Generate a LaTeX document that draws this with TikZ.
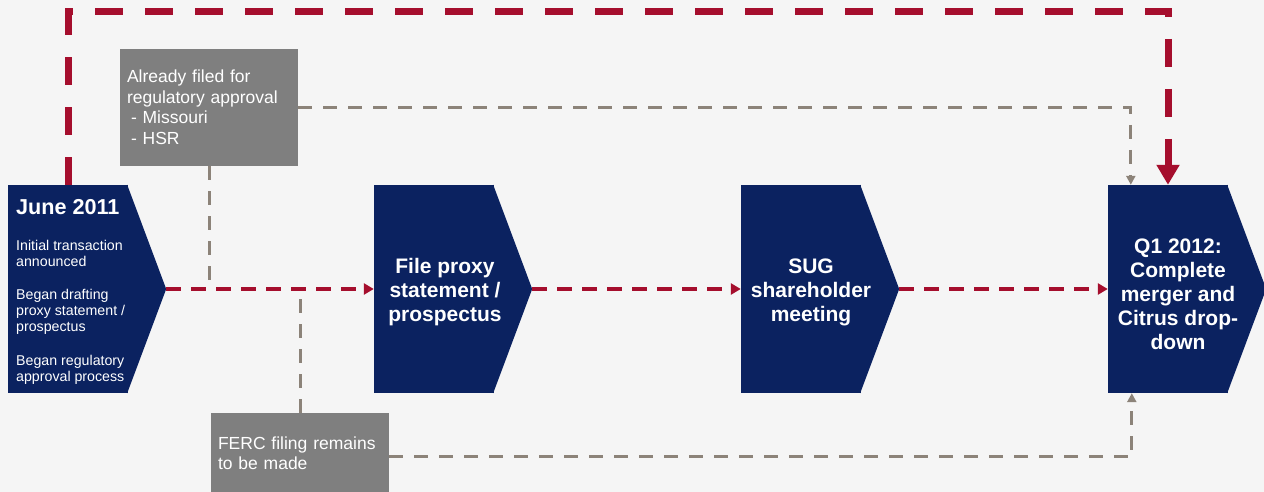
\documentclass[tikz,border=0pt]{standalone}
\usepackage{fontspec}
\setmainfont{Liberation Sans}
\usetikzlibrary{arrows.meta,calc}
\definecolor{navy}{HTML}{0B2260}
\definecolor{darkred}{HTML}{A50E2D}
\definecolor{boxgray}{HTML}{7F7F7F}
\definecolor{linegray}{HTML}{8C8379}
\definecolor{bg}{HTML}{F5F5F5}
\tikzset{
  navybox/.style={rectangle, fill=navy, minimum width=120pt, minimum height=208pt, inner sep=0pt},
  boxtitle/.style={text=white, font=\fontsize{21}{24}\selectfont\bfseries, align=center, inner sep=0pt},
  smalltxt/.style={text=white, font=\fontsize{14.2}{16}\selectfont, align=left, inner sep=0pt},
  graynote/.style={rectangle, fill=boxgray, text=white, font=\fontsize{17.5}{20.5}\selectfont, align=left, text width=164pt, inner xsep=7pt, inner ysep=0pt},
  redflow/.style={draw=darkred, line width=3.5pt, dash pattern=on 15pt off 10pt, -{Triangle[length=10pt,width=11pt]}},
  bigredflow/.style={draw=darkred, line width=7pt, dash pattern=on 28pt off 22pt, -{Triangle[length=20pt,width=22pt]}},
  grayflow/.style={draw=linegray, line width=3pt, dash pattern=on 14pt off 11pt, -{Triangle[length=9pt,width=9pt]}},
  graylink/.style={draw=linegray, line width=3pt, dash pattern=on 14pt off 11pt},
}
\begin{document}
\begin{tikzpicture}[x=1pt,y=1pt]
\fill[bg] (0,0) rectangle (1264,492);
\clip (0,0) rectangle (1264,492);
\useasboundingbox (0,0) rectangle (1264,492);

% main process boxes
\node[navybox] (june) at (68,203) {};
\node[navybox] (file) at (434,203) {};
\node[navybox] (sug)  at (801,203) {};
\node[navybox] (q1)   at (1168,203) {};
\foreach \b in {june,file,sug,q1}{
  \fill[navy] ([xshift=-1pt]\b.north east) -- ([xshift=38pt]\b.east) -- ([xshift=-1pt]\b.south east) -- cycle;
}
\coordinate (junetip) at ([xshift=38pt]june.east);
\coordinate (filetip) at ([xshift=38pt]file.east);
\coordinate (sugtip)  at ([xshift=38pt]sug.east);

% texts in the boxes
\node[text=white, font=\fontsize{21.6}{24}\selectfont\bfseries, inner sep=0pt, anchor=base west] (junetitle) at (16,277) {June 2011};
\node[smalltxt, anchor=north west] (junetxt) at (16,252)
  {Initial transaction\\announced\\[17.5pt]Began drafting\\proxy statement /\\prospectus\\[17.5pt]Began regulatory\\approval process};
\node[boxtitle] (filetxt) at ([xshift=11pt,yshift=-3pt]file.center) {File proxy\\statement /\\prospectus};
\node[boxtitle] (sugtxt) at ([xshift=10pt,yshift=-3pt]sug.center) {SUG\\shareholder\\meeting};
\node[boxtitle] (q1txt) at ([xshift=10pt,yshift=-5pt]q1.center) {Q1 2012:\\Complete\\merger and\\Citrus drop-\\down};

% gray notes
\node[graynote, minimum height=117pt] (already) at (209,384.5)
  {Already filed for\\regulatory approval\\\hspace*{4pt}- Missouri\\\hspace*{4pt}- HSR};
\node[graynote, minimum height=80pt] (ferc) at (300,39)
  {FERC filing remains\\to be made};

% connectors
\draw[bigredflow] (june.north) -- ++(0,173) -| (q1.north);
\draw[graylink] (already.south) -- (already.south |- junetip);
\draw[graylink] (ferc.north) -- (ferc.north |- junetip);
\draw[grayflow] (already.east) -| ([xshift=23pt]q1.north west);
\draw[grayflow] ([yshift=-4pt]ferc.east) -| ([xshift=24pt]q1.south west);
\draw[redflow] (junetip) -- (file.west);
\draw[redflow] (filetip) -- (sug.west);
\draw[redflow] (sugtip) -- (q1.west);
\end{tikzpicture}
\end{document}
